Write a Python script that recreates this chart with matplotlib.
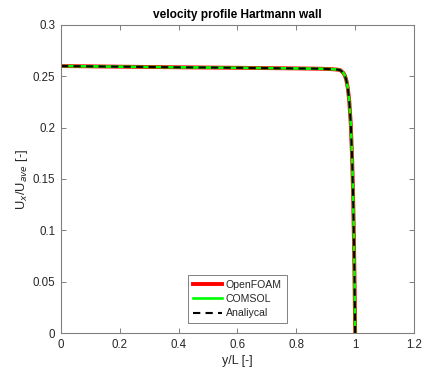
"""
Velocity profile near a Hartmann wall -- OpenFOAM vs COMSOL vs analytical.
Writes out.png
"""

import matplotlib
matplotlib.use("Agg")
import matplotlib.pyplot as plt

# y/L positions (denser near the wall)
y_pos = [0.0, 0.2, 0.4, 0.6, 0.8, 0.88, 0.92, 0.94, 0.95, 0.96, 0.965,
         0.97, 0.975, 0.98, 0.985, 0.99, 0.993, 0.996, 0.998, 1.0]

# Ux/Uave for each source (they lie on top of each other)
u_openfoam = [0.2600, 0.2594, 0.2588, 0.2583, 0.2577, 0.2574, 0.2570,
              0.2565, 0.2559, 0.2533, 0.2507, 0.2462, 0.2386, 0.2257,
              0.2040, 0.1672, 0.1339, 0.0882, 0.0488, 0.0]
u_comsol = list(u_openfoam)
u_analytical = list(u_openfoam)

x_ticks = [0, 0.2, 0.4, 0.6, 0.8, 1, 1.2]
y_ticks = [0, 0.05, 0.1, 0.15, 0.2, 0.25, 0.3]

plt.rcParams["font.family"] = ["Liberation Sans", "DejaVu Sans"]

AX_GREY = "#808080"
TXT_GREY = "#262626"

fig = plt.figure(figsize=(4.23, 3.74), dpi=100)
ax = fig.add_axes([0.1442, 0.1096, 0.8345, 0.8236])

ax.plot(y_pos, u_openfoam, color="#ff0000", lw=2.8, label="OpenFOAM")
ax.plot(y_pos, u_comsol, color="#00ff00", lw=1.9, label="COMSOL")
ax.plot(y_pos, u_analytical, color="black", lw=1.5, ls=(0, (3.5, 2.5)),
        label="Analiycal")

ax.set_xlim(0, 1.2)
ax.set_ylim(0, 0.3)
ax.set_xticks(x_ticks)
ax.set_xticklabels(["0", "0.2", "0.4", "0.6", "0.8", "1", "1.2"])
ax.set_yticks(y_ticks)
ax.set_yticklabels(["0", "0.05", "0.1", "0.15", "0.2", "0.25", "0.3"])

for sp in ax.spines.values():
    sp.set_color(AX_GREY)
    sp.set_linewidth(0.8)
ax.tick_params(direction="in", length=3.5, width=0.7, color=AX_GREY,
               labelcolor=TXT_GREY, labelsize=8.3, top=True, right=True, pad=4)

ax.set_xlabel("y/L [-]", fontsize=9, color=TXT_GREY, labelpad=3)
ax.set_ylabel(r"U$_x$/U$_{ave}$ [-]", fontsize=9.3, color=TXT_GREY, labelpad=2)
ax.set_title("velocity profile Hartmann wall", fontsize=8.6, fontweight="bold",
             color="black", pad=5)

leg = ax.legend(loc="lower center", bbox_to_anchor=(0.499, 0.032),
                borderaxespad=0, fontsize=7.6, fancybox=False, framealpha=1,
                edgecolor=AX_GREY, borderpad=0.45, labelspacing=0.42,
                handlelength=2.8, handletextpad=0.35)
leg.get_frame().set_linewidth(0.7)
for t in leg.get_texts():
    t.set_color(TXT_GREY)

fig.savefig("out.png", dpi=100)
plt.close(fig)
